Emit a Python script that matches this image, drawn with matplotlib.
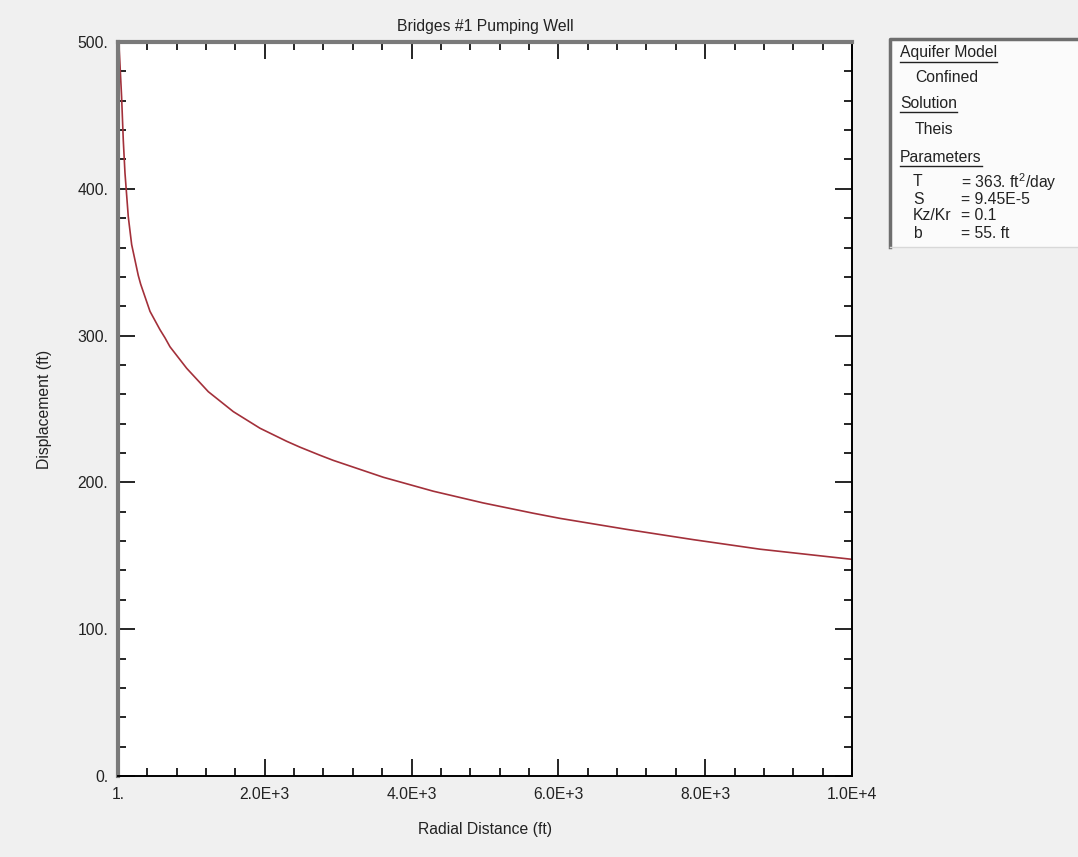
"""
Theis drawdown vs radial distance, Bridges #1 pumping well.
"""

# ------ import section ------
import matplotlib
matplotlib.use("Agg")
import matplotlib.pyplot as plt
from matplotlib.lines import Line2D
from matplotlib.patches import Rectangle

# ------ data section ------
radial_ft = [1, 5, 18, 50, 73, 96, 141, 187, 277, 310, 437, 573, 641, 709,
             937, 1231, 1572, 1935, 2299, 2480, 2752, 2934, 3615, 4296, 4977,
             5658, 6022, 6567, 6931, 7839, 8747, 10000]
displacement_ft = [650, 565, 494.6, 462.7, 433, 410.8, 381, 362, 341, 335,
                   316.5, 304, 298.5, 292.4, 277.7, 261.8, 248.2, 236.9, 228,
                   224, 218.5, 215, 203.5, 194, 186, 179, 175.5, 171,
                   168, 161, 154.5, 147.6]

x_ticks = [1, 2000, 4000, 6000, 8000, 10000]
x_tick_labels = ["1.", "2.0E+3", "4.0E+3", "6.0E+3", "8.0E+3", "1.0E+4"]
y_ticks = [0, 100, 200, 300, 400, 500]
y_tick_labels = ["0.", "100.", "200.", "300.", "400.", "500."]

legend_rows = [
    ("Aquifer Model", None, True),
    ("Confined", None, False),
    ("Solution", None, True),
    ("Theis", None, False),
    ("Parameters", None, True),
    ("T", r"= 363. ft$^{\mathrm{2}}$/day", False),
    ("S", "= 9.45E-5", False),
    ("Kz/Kr", "= 0.1", False),
    ("b", "= 55. ft", False),
]

W, H = 1078, 857


def px(x, y):
    return x / W, 1 - y / H


# ------ main section ------
def main():
    plt.rcParams["font.family"] = ["Liberation Sans", "DejaVu Sans"]
    plt.rcParams["mathtext.fontset"] = "custom"
    plt.rcParams["mathtext.rm"] = "Liberation Sans"
    plt.rcParams["mathtext.it"] = "Liberation Sans"
    fs = 11.3
    tc = "#222222"

    fig = plt.figure(figsize=(W / 100, H / 100), dpi=100, facecolor="#f0f0f0")
    ax = fig.add_axes([118 / W, 1 - 776 / H, 734 / W, 734 / H])
    ax.set_facecolor("white")

    ax.plot(radial_ft, displacement_ft, color="#a3303a", lw=1.2)

    ax.set_xlim(1, 10000)
    ax.set_ylim(0, 500)
    ax.set_xticks(x_ticks)
    ax.set_xticklabels(x_tick_labels)
    ax.set_xticks(range(400, 10000, 400), minor=True)
    ax.set_yticks(y_ticks)
    ax.set_yticklabels(y_tick_labels)
    ax.set_yticks(range(20, 500, 20), minor=True)
    ax.tick_params(which="both", direction="in", top=True, right=True,
                   colors="black", labelcolor=tc, labelsize=fs, width=1.2)
    ax.tick_params(which="major", length=12)
    ax.tick_params(which="minor", length=6)
    ax.tick_params(axis="x", pad=8)
    ax.tick_params(axis="y", pad=7)

    for side in ["left", "top"]:
        ax.spines[side].set_color("#7a7a7a")
        ax.spines[side].set_linewidth(3)
    for side in ["right", "bottom"]:
        ax.spines[side].set_color("black")
        ax.spines[side].set_linewidth(1.4)

    ax.set_title("Bridges #1 Pumping Well", fontsize=fs, color=tc, pad=8)
    ax.set_xlabel("Radial Distance (ft)", fontsize=fs, color=tc, labelpad=14)
    ax.set_ylabel("Displacement (ft)", fontsize=fs, color=tc, labelpad=18)

    # legend panel
    x0, y0 = px(890, 247)
    x1, y1 = px(1078, 39)
    fig.add_artist(Rectangle((x0, y0), x1 - x0, y1 - y0, transform=fig.transFigure,
                             facecolor="#fbfbfb", edgecolor="none"))
    fig.add_artist(Line2D([x0, x0, x1], [y0, y1, y1], transform=fig.transFigure,
                          color="#6e6e6e", lw=2.5))
    fig.add_artist(Line2D([x0, x1], [y0, y0], transform=fig.transFigure,
                          color="#d8d8d8", lw=1))

    row_y = [53, 77, 103, 129, 157, 182, 199, 216, 234]
    for (label, value, head), yy in zip(legend_rows, row_y):
        if head:
            xx = 900
        elif value is None:
            xx = 915
        else:
            xx = 913
        t = fig.text(*px(xx, yy), label, fontsize=fs, color=tc,
                     ha="left", va="center")
        if value is not None:
            fig.text(*px(961, yy), value, fontsize=fs, color=tc,
                     ha="left", va="center")
        if head:
            fig.canvas.draw()
            bb = t.get_window_extent()
            uy = px(0, yy + 9)[1]
            fig.add_artist(Line2D([bb.x0 / W, bb.x1 / W], [uy, uy],
                                  transform=fig.transFigure, color=tc, lw=1))

    fig.savefig("out.png", dpi=100, facecolor=fig.get_facecolor())


# ------ execution section ------
if __name__ == "__main__":
    main()
